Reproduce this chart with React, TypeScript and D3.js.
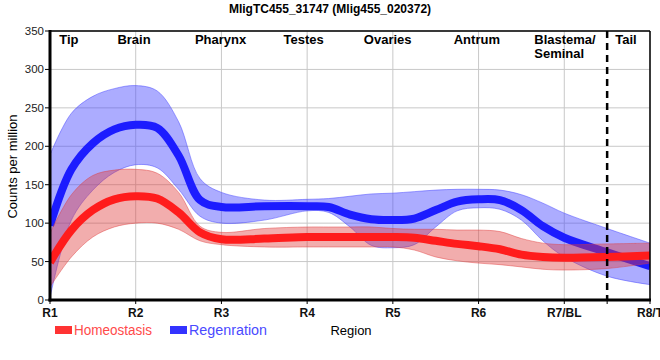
import React from "react";
import * as d3 from "d3";

const title = "MligTC455_31747 (Mlig455_020372)";
const xTickLabels = ["R1", "R2", "R3", "R4", "R5", "R6", "R7/BL", "R8/T"];
const yTicks = [0, 50, 100, 150, 200, 250, 300, 350];
const regionNames = ["Tip", "Brain", "Pharynx", "Testes", "Ovaries", "Antrum", "Blastema/|Seminal", "Tail"];
const regionPos = [1.22, 1.98, 2.99, 3.96, 4.94, 5.98, 6.65, 7.72];
const regionAnchor = ["middle", "middle", "middle", "middle", "middle", "middle", "start", "middle"];

const positions = [1, 1.25, 1.5, 1.75, 2, 2.25, 2.5, 2.75, 3, 3.5, 4, 4.25, 4.5, 4.75, 5, 5.25, 5.5, 5.75, 6, 6.25, 6.5, 6.75, 7, 7.5, 8];

const regenMean = [97, 170, 204, 222, 228, 224, 188, 130, 121, 122, 122, 121, 111, 105, 104, 106, 117, 128, 131, 130, 117, 96, 81, 62, 44];
const regenUpper = [189, 243, 265, 275, 279, 272, 232, 158, 140, 130, 131, 132, 135, 138, 139, 141, 143, 144, 144, 143, 137, 126, 113, 93, 74];
const regenLower = [3, 104, 143, 166, 176, 172, 144, 109, 100, 104, 116, 114, 95, 71, 68, 72, 95, 116, 120, 118, 104, 77, 56, 31, 20];

const homeoMean = [49, 91, 117, 131, 135, 132, 114, 88, 79, 80, 82, 82, 82, 82, 82, 81, 77, 73, 70, 66, 59, 56, 55, 56, 58];
const homeoUpper = [87, 137, 162, 169, 170, 165, 140, 96, 88, 93, 95, 95, 95, 95, 93, 92, 92, 91, 91, 89, 80, 74, 72, 73, 74];
const homeoLower = [17, 56, 82, 95, 100, 100, 92, 77, 72, 69, 69, 69, 69, 69, 69, 65, 56, 51, 48, 46, 43, 40, 39, 41, 48];

const dividerPos = 7.5;
const legendNames = ["Homeostasis", "Regenration"];

const W = 660, H = 360;
const left = 50, right = 650, top = 31, bottom = 300;

export default function App() {
  const x = d3.scaleLinear().domain([1, 8]).range([left, right]);
  const y = d3.scaleLinear().domain([0, 350]).range([bottom, top]);
  const curve = d3.curveCatmullRom.alpha(0.5);

  const line = (vals: number[]) =>
    d3.line<number>().x((_, i) => x(positions[i])).y((d) => y(d)).curve(curve)(vals) || "";
  const area = (lo: number[], hi: number[]) =>
    d3
      .area<number>()
      .x((_, i) => x(positions[i]))
      .y0((_, i) => y(lo[i]))
      .y1((_, i) => y(hi[i]))
      .curve(curve)(positions) || "";

  const font = "Arial, 'Liberation Sans', sans-serif";

  return (
    <svg width={W} height={H} style={{ position: "absolute", left: 0, top: 0, background: "#fff" }} fontFamily={font}>
      <defs>
        <clipPath id="plotclip">
          <rect x={left} y={top} width={right - left} height={bottom - top} />
        </clipPath>
      </defs>
      {yTicks.map((t) => (
        <line key={"gy" + t} x1={left} x2={right} y1={y(t)} y2={y(t)} stroke="#c8c8c8" strokeWidth={1} />
      ))}
      {xTickLabels.map((_, i) => (
        <line key={"gx" + i} x1={x(i + 1)} x2={x(i + 1)} y1={top} y2={bottom} stroke="#c8c8c8" strokeWidth={1} />
      ))}
      <g clipPath="url(#plotclip)">
        <path d={area(regenLower, regenUpper)} fill="rgb(70,70,255)" fillOpacity={0.45} stroke="rgb(70,70,255)" strokeOpacity={0.5} strokeWidth={1} />
        <path d={line(regenMean)} fill="none" stroke="#1c1cff" strokeWidth={8} />
        <path d={area(homeoLower, homeoUpper)} fill="rgb(225,60,60)" fillOpacity={0.42} stroke="rgb(225,60,60)" strokeOpacity={0.45} strokeWidth={1} />
        <path d={line(homeoMean)} fill="none" stroke="#ff1c1c" strokeWidth={8} />
      </g>
      <line x1={x(dividerPos)} x2={x(dividerPos)} y1={top} y2={bottom} stroke="#000" strokeWidth={2.5} strokeDasharray="7,5" />
      <line x1={left} x2={right} y1={top} y2={top} stroke="#000" strokeWidth={1.5} />
      <line x1={right} x2={right} y1={top} y2={bottom} stroke="#000" strokeWidth={1.5} />
      <line x1={left} x2={left} y1={top - 1} y2={bottom + 1.5} stroke="#000" strokeWidth={3} />
      <line x1={left - 1.5} x2={right + 1} y1={bottom} y2={bottom} stroke="#000" strokeWidth={3} />
      {yTicks.map((t) => (
        <g key={"yt" + t}>
          <line x1={left - 5} x2={left} y1={y(t)} y2={y(t)} stroke="#000" strokeWidth={1} />
          <text x={left - 6} y={y(t) + 4} textAnchor="end" fontSize={11.5} fill="#222">
            {t}
          </text>
        </g>
      ))}
      {xTickLabels.map((l, i) => (
        <g key={"xt" + i}>
          <line x1={x(i + 1)} x2={x(i + 1)} y1={bottom} y2={bottom + 4} stroke="#000" strokeWidth={1} />
          <text x={x(i + 1)} y={bottom + 17} textAnchor="middle" fontSize={12} fontWeight="bold" fill="#111">
            {l}
          </text>
        </g>
      ))}
      <line x1={x(dividerPos)} x2={x(dividerPos)} y1={bottom} y2={bottom + 4} stroke="#000" strokeWidth={1} />
      {regionNames.map((n, i) => {
        const parts = n.split("|");
        return (
          <text key={"rl" + i} x={x(regionPos[i])} y={44} textAnchor={regionAnchor[i] as any} fontSize={13} fontWeight="bold" fill="#000">
            {parts.map((p, j) => (
              <tspan key={j} x={x(regionPos[i])} dy={j === 0 ? 0 : 14}>
                {p}
              </tspan>
            ))}
          </text>
        );
      })}
      <text x={330} y={13} textAnchor="middle" fontSize={12} fontWeight="bold" fill="#000">
        {title}
      </text>
      <text transform={`translate(17,${(top + bottom) / 2 + 1}) rotate(-90)`} textAnchor="middle" fontSize={13} fill="#000">
        Counts per million
      </text>
      <rect x={55} y={326} width={17} height={8} fill="#ff3333" />
      <text x={74} y={335} fontSize={14} fill="#ff4a4a" textLength={78} lengthAdjust="spacingAndGlyphs">
        {legendNames[0]}
      </text>
      <rect x={170} y={326} width={17} height={8} fill="#3333ff" />
      <text x={189} y={335} fontSize={14} fill="#4a4aff" textLength={78} lengthAdjust="spacingAndGlyphs">
        {legendNames[1]}
      </text>
      <text x={351} y={335} textAnchor="middle" fontSize={13} fill="#000">
        Region
      </text>
    </svg>
  );
}
